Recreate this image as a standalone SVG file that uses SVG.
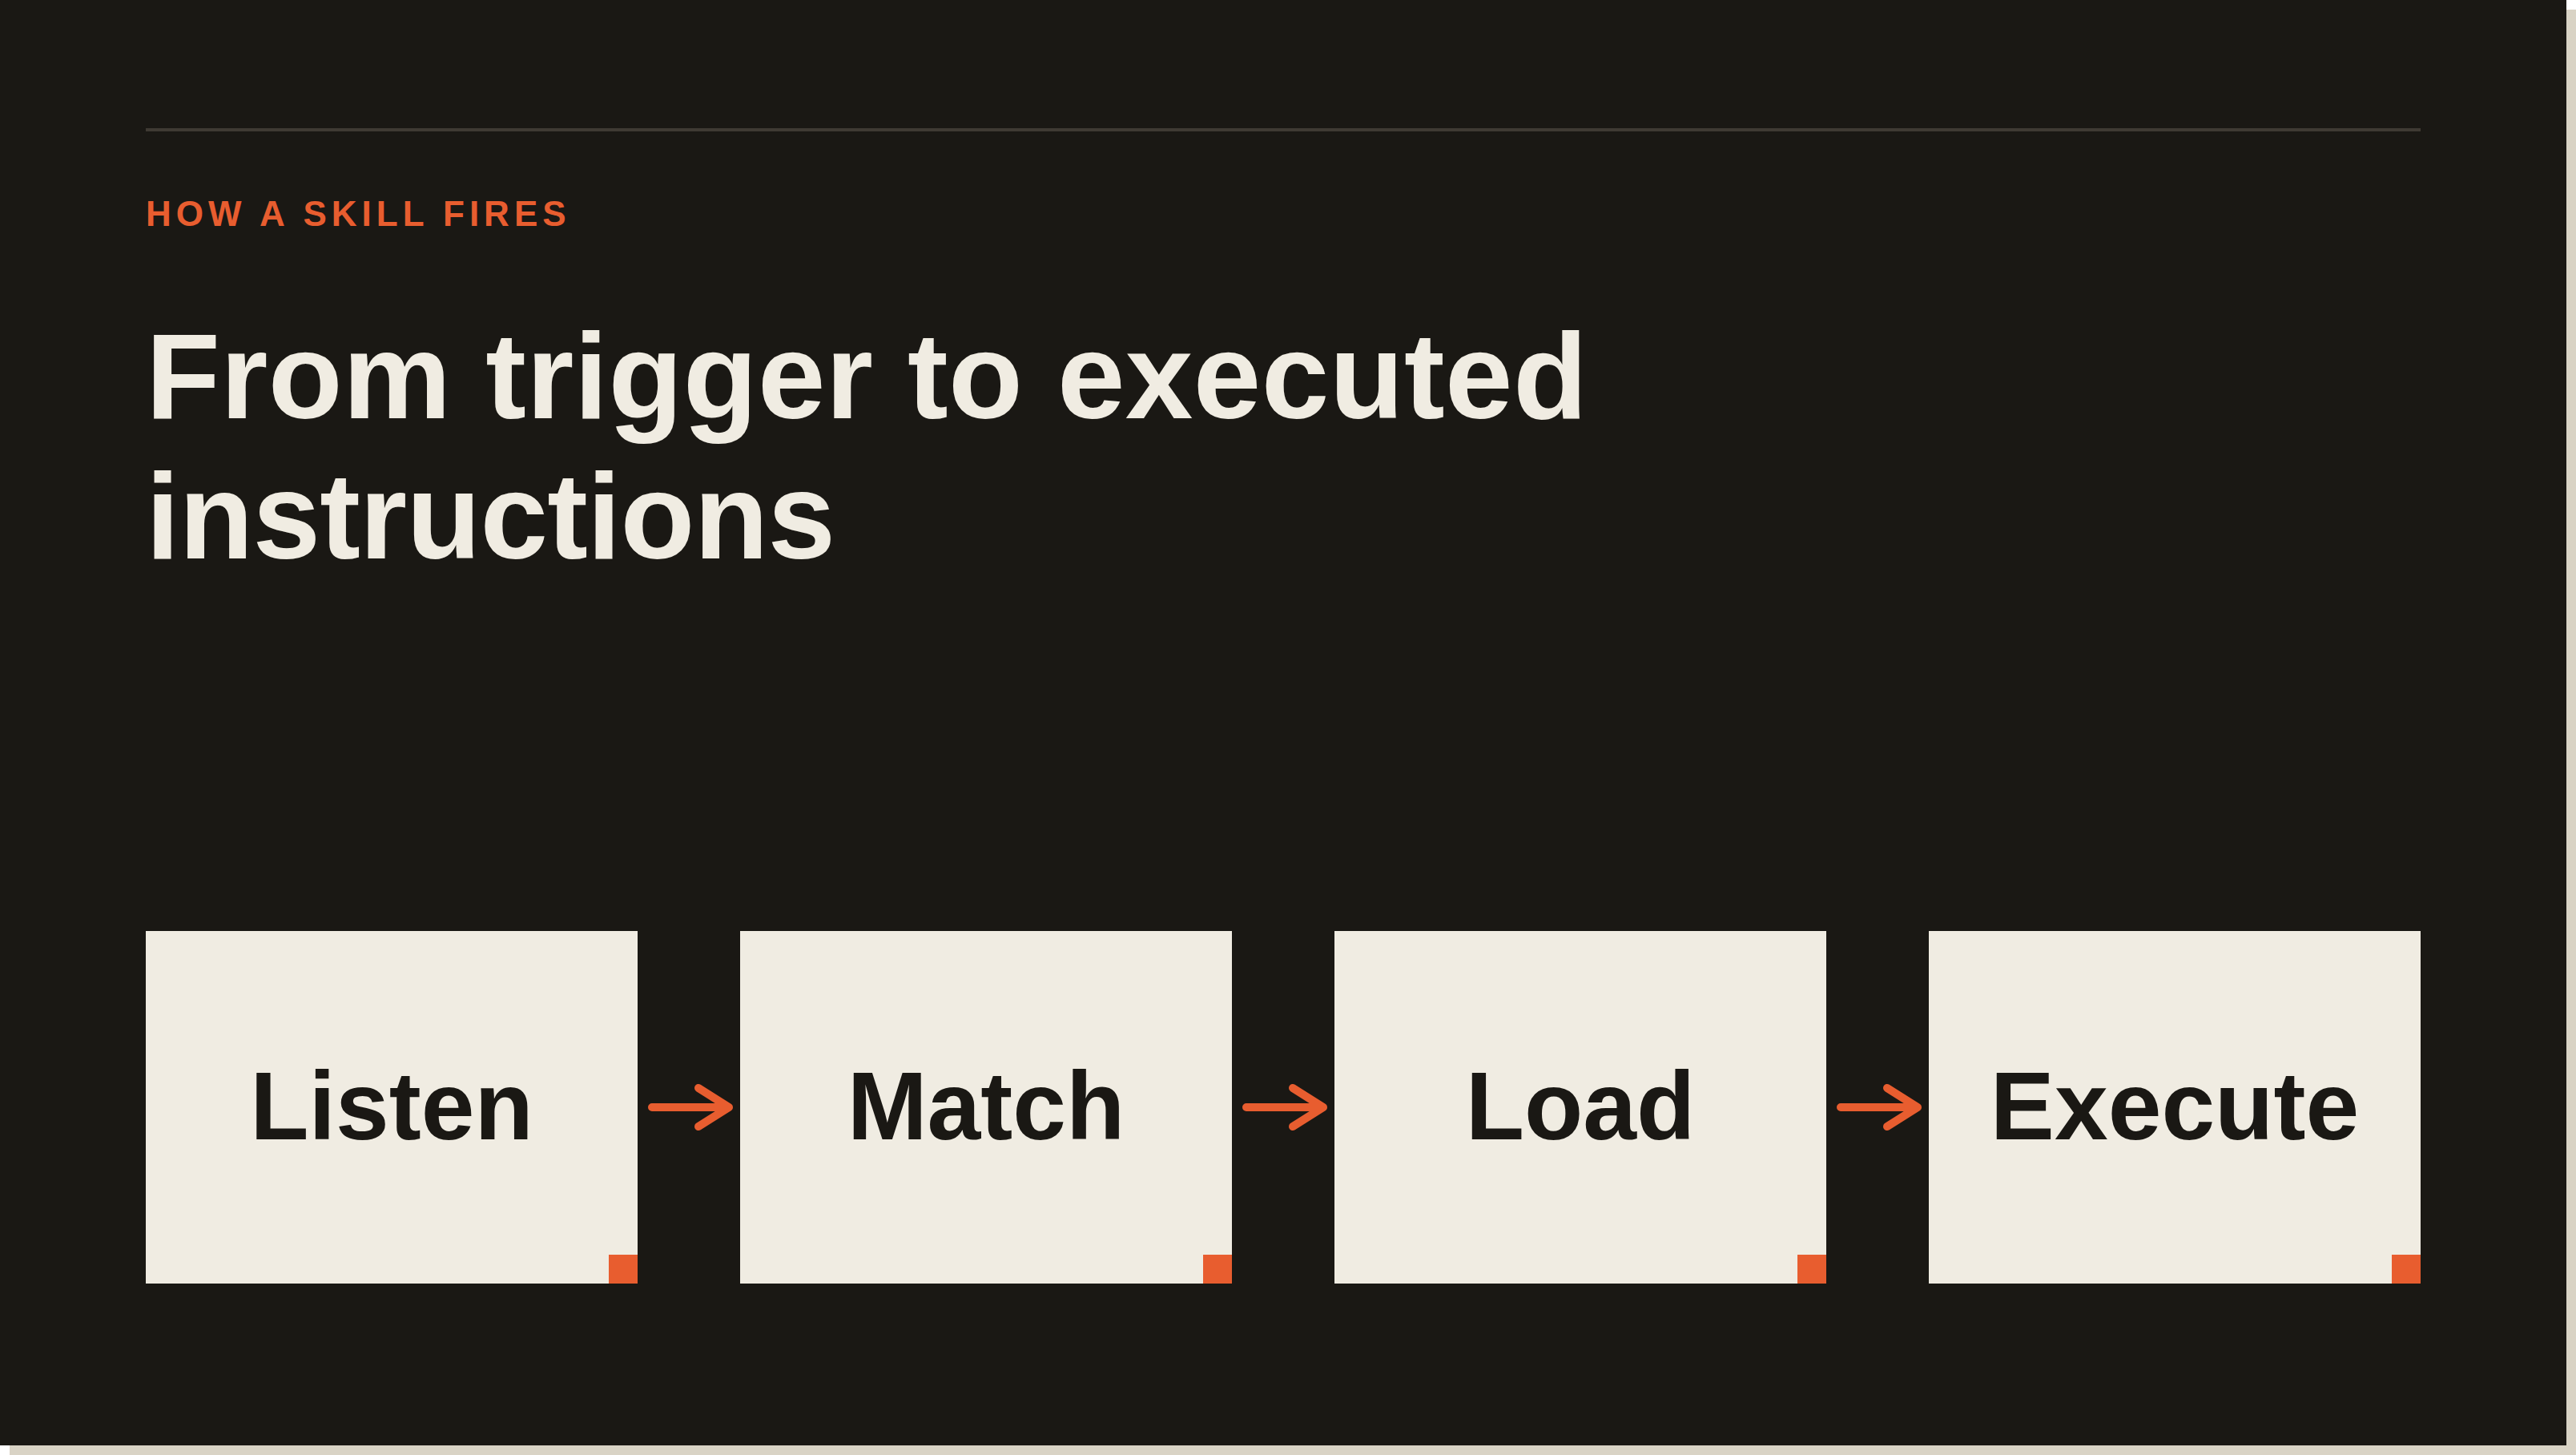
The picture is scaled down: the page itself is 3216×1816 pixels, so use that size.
<svg xmlns="http://www.w3.org/2000/svg" width="3216" height="1816" viewBox="0 0 3216 1816">
  <style>
    .box { fill: #f0ece2; }
    .tag { fill: #e85d2f; }
    .label { font-family: "Liberation Sans", Arial, sans-serif; font-weight: 700; font-size: 120px; fill: #1a1814; text-anchor: middle; }
    .title { font-family: "Liberation Sans", Arial, sans-serif; font-weight: 700; font-size: 152px; fill: #f0ece2; }
    .eyebrow { font-family: "Liberation Sans", Arial, sans-serif; font-weight: 700; font-size: 44px; letter-spacing: 6px; fill: #e85d2f; }
    .arrow { fill: none; stroke: #e85d2f; stroke-width: 10; stroke-linecap: round; stroke-linejoin: round; }
  </style>
  <rect x="0" y="0" width="3216" height="1816" fill="#ffffff"/>
  <rect x="12" y="12" width="3204" height="1804" fill="#d9d3c5"/>
  <rect x="0" y="0" width="3204" height="1804" fill="#1a1814"/>
  <rect x="182" y="160" width="2840" height="4" fill="#3f3a33"/>
  <text class="eyebrow" x="182" y="282">HOW A SKILL FIRES</text>
  <text class="title" x="182" y="522" letter-spacing="0.4">From trigger to executed</text>
  <text class="title" x="182" y="697" letter-spacing="-0.8">instructions</text>

  <g id="node-listen">
    <rect class="box" x="182" y="1162" width="614" height="440"/>
    <rect class="tag" x="760" y="1566" width="36" height="36"/>
    <text class="label" x="489" y="1422">Listen</text>
  </g>
  <g id="node-match">
    <rect class="box" x="924" y="1162" width="614" height="440"/>
    <rect class="tag" x="1502" y="1566" width="36" height="36"/>
    <text class="label" x="1231" y="1422">Match</text>
  </g>
  <g id="node-load">
    <rect class="box" x="1666" y="1162" width="614" height="440"/>
    <rect class="tag" x="2244" y="1566" width="36" height="36"/>
    <text class="label" x="1973" y="1422">Load</text>
  </g>
  <g id="node-execute">
    <rect class="box" x="2408" y="1162" width="614" height="440"/>
    <rect class="tag" x="2986" y="1566" width="36" height="36"/>
    <text class="label" x="2715" y="1422">Execute</text>
  </g>

  <g id="connectors">
    <path class="arrow" d="M814 1382 H910 M872 1358 L910 1382 L872 1406"/>
    <path class="arrow" d="M1556 1382 H1652 M1614 1358 L1652 1382 L1614 1406"/>
    <path class="arrow" d="M2298 1382 H2394 M2356 1358 L2394 1382 L2356 1406"/>
  </g>
</svg>
